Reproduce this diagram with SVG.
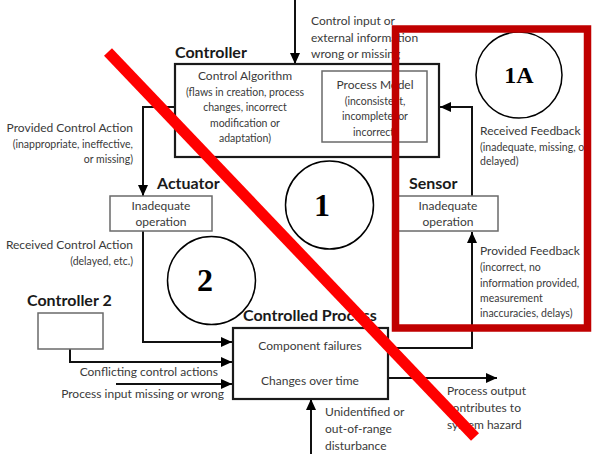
<svg xmlns="http://www.w3.org/2000/svg" width="593" height="454" viewBox="0 0 593 454">
<style>
.bg{fill:#fff}
.box{fill:#fff;stroke:#1a1a1a;stroke-width:2.2}
.tbox{fill:#fff;stroke:#6a6a6a;stroke-width:1.5}
.t{font-family:Lato,"Liberation Sans",sans-serif;fill:#3a3a3a;font-size:12px}
.s{font-size:10.5px}
.b{font-family:Lato,"Liberation Sans",sans-serif;font-weight:bold;fill:#1a1a1a;font-size:16px}
.c{text-anchor:middle}
.e{text-anchor:end}
.num{font-family:"Liberation Serif","Times New Roman",serif;font-weight:bold;fill:#000;text-anchor:middle}
.circ{fill:none;stroke:#000;stroke-width:1.5}
.con{fill:none;stroke:#111;stroke-width:2;marker-end:url(#ah)}
</style>
<defs>
<marker id="ah" markerUnits="userSpaceOnUse" markerWidth="12" markerHeight="12" refX="11" refY="5" orient="auto" viewBox="0 0 12 10">
<path d="M0,0 L11,5 L0,10 z" fill="#000"/>
</marker>
</defs>
<rect class="bg" x="0" y="0" width="593" height="454"/>

<g id="connectors">
<path class="con" d="M295,0 V64"/>
<path class="con" d="M175,107 H143 V196"/>
<path class="con" d="M143,231 V342 H232"/>
<path class="con" d="M70,349 V362 H232"/>
<path class="con" d="M116,384 H232"/>
<path class="con" d="M388,348 H472 V232"/>
<path class="con" d="M472,196 V107 H440"/>
<path class="con" d="M388,378 H497"/>
<path class="con" d="M311,454 V399"/>
</g>

<g id="controller">
<text class="b" x="175" y="58">Controller</text>
<rect class="box" x="175" y="64" width="264" height="93"/>
<text class="t c" x="245" y="80">Control Algorithm</text>
<text class="t s c" x="245" y="96">(flaws in creation, process</text>
<text class="t s c" x="245" y="111">changes, incorrect</text>
<text class="t s c" x="245" y="127">modification or</text>
<text class="t s c" x="245" y="142">adaptation)</text>
</g>
<g id="process-model">
<rect class="tbox" x="322" y="71" width="105" height="71"/>
<text class="t c" x="375" y="89">Process Model</text>
<text class="t s c" x="375" y="105">(inconsistent,</text>
<text class="t s c" x="375" y="120">incomplete, or</text>
<text class="t s c" x="375" y="136">incorrect)</text>
</g>

<g id="control-input-label">
<text class="t" x="311" y="25">Control input or</text>
<text class="t" x="311" y="42">external information</text>
<text class="t" x="311" y="58">wrong or missing</text>
</g>

<g id="provided-control-action">
<text class="t e" x="133" y="132">Provided Control Action</text>
<text class="t s e" x="133" y="148">(inappropriate, ineffective,</text>
<text class="t s e" x="133" y="163">or missing)</text>
</g>

<g id="actuator">
<text class="b" x="157" y="189">Actuator</text>
<rect class="tbox" x="110" y="196" width="102" height="35"/>
<text class="t c" x="161" y="210">Inadequate</text>
<text class="t c" x="161" y="226">operation</text>
</g>

<g id="received-control-action">
<text class="t e" x="133" y="249">Received Control Action</text>
<text class="t s e" x="133" y="265">(delayed, etc.)</text>
</g>

<g id="controller2">
<text class="b" x="27" y="306">Controller 2</text>
<rect class="tbox" x="38" y="313" width="65" height="36"/>
</g>

<g id="input-labels">
<text class="t e" x="218" y="376">Conflicting control actions</text>
<text class="t e" x="224" y="398">Process input missing or wrong</text>
</g>

<g id="controlled-process">
<text class="b" x="243" y="321">Controlled Process</text>
<rect class="box" x="233" y="328" width="155" height="71"/>
<text class="t c" x="310" y="350">Component failures</text>
<text class="t c" x="310" y="385">Changes over time</text>
</g>

<g id="output-label">
<text class="t" x="447" y="395">Process output</text>
<text class="t" x="447" y="412">contributes to</text>
<text class="t" x="447" y="429">system hazard</text>
</g>

<g id="disturbance-label">
<text class="t" x="325" y="416">Unidentified or</text>
<text class="t" x="325" y="433">out-of-range</text>
<text class="t" x="325" y="450">disturbance</text>
</g>

<g id="sensor">
<text class="b" x="409" y="189">Sensor</text>
<rect class="tbox" x="398" y="196" width="100" height="35"/>
<text class="t c" x="448" y="210">Inadequate</text>
<text class="t c" x="448" y="226">operation</text>
</g>

<g id="received-feedback">
<text class="t" x="480" y="135">Received Feedback</text>
<text class="t s" x="480" y="151">(inadequate, missing, or</text>
<text class="t s" x="480" y="165">delayed)</text>
</g>

<g id="provided-feedback">
<text class="t" x="480" y="255">Provided Feedback</text>
<text class="t s" x="480" y="271">(incorrect, no</text>
<text class="t s" x="480" y="287">information provided,</text>
<text class="t s" x="480" y="302">measurement</text>
<text class="t s" x="480" y="317">inaccuracies, delays)</text>
</g>

<g id="circle-1">
<circle class="circ" cx="329.5" cy="205" r="44"/>
<text class="num" x="322" y="216" font-size="32">1</text>
</g>
<g id="circle-2">
<circle class="circ" cx="211.5" cy="280.5" r="44"/>
<text class="num" x="205" y="291" font-size="32">2</text>
</g>
<g id="circle-1A">
<circle class="circ" cx="519" cy="75" r="43"/>
<text class="num" x="519" y="83" font-size="24">1A</text>
</g>

<g id="red-box">
<rect x="395.5" y="29" width="192" height="299" fill="none" stroke="#c00000" stroke-width="7.5"/>
</g>
<g id="red-cross">
<line x1="108" y1="52" x2="475" y2="437" stroke="#ff0000" stroke-width="11"/>
</g>
</svg>
